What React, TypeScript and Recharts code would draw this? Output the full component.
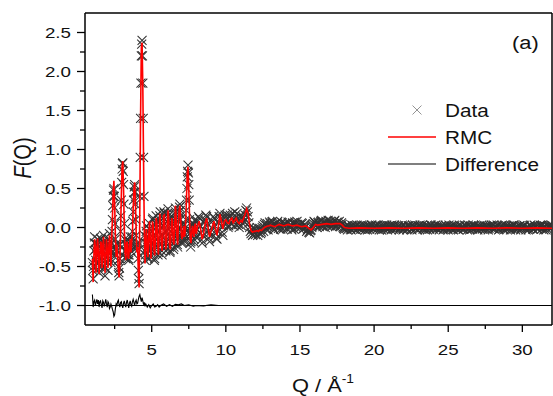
import { ComposedChart, XAxis, YAxis, Scatter, ReferenceLine } from "recharts";

type Pt = [number, number];

const xTicks = [2.5, 5, 7.5, 10, 12.5, 15, 17.5, 20, 22.5, 25, 27.5, 30];
const yTicks = [-1, -0.75, -0.5, -0.25, 0, 0.25, 0.5, 0.75, 1, 1.25, 1.5, 1.75, 2, 2.25, 2.5];

// Q grid of the low-Q part (Å^-1); data and RMC share it
const qLow = [
  1.0, 1.05, 1.1, 1.15, 1.2, 1.25, 1.3, 1.35, 1.4, 1.45,
  1.5, 1.55, 1.6, 1.65, 1.7, 1.75, 1.8, 1.85, 1.9, 1.95,
  2.0, 2.05, 2.1, 2.15, 2.2, 2.25, 2.3, 2.35, 2.4, 2.45,
  2.5, 2.55, 2.6, 2.65, 2.7, 2.75, 2.8, 2.85, 2.9, 2.95,
  3.0, 3.05, 3.1, 3.15, 3.2, 3.25, 3.3, 3.35, 3.4, 3.45,
  3.5, 3.55, 3.6, 3.65, 3.7, 3.75, 3.8, 3.85, 3.9, 3.95,
  4.0, 4.05, 4.1, 4.15, 4.2, 4.25, 4.3, 4.35, 4.4, 4.45,
  4.5, 4.55, 4.6, 4.65, 4.7, 4.75, 4.8, 4.85, 4.9, 4.95,
  5.0, 5.05, 5.1, 5.15, 5.2, 5.25, 5.3, 5.35, 5.4, 5.45,
  5.5, 5.55, 5.6, 5.65, 5.7, 5.75, 5.8, 5.85, 5.9, 5.95,
  6.0, 6.05, 6.1, 6.15, 6.2, 6.25, 6.3, 6.35, 6.4, 6.45,
  6.5, 6.55, 6.6, 6.65, 6.7, 6.75, 6.8, 6.85, 6.9, 6.95,
  7.0, 7.05, 7.1, 7.15, 7.2, 7.25, 7.3, 7.35, 7.4, 7.45,
  7.5, 7.55, 7.6, 7.65, 7.7, 7.75, 7.8, 7.85, 7.9, 7.95,
  8.0, 8.1, 8.2, 8.3, 8.4, 8.5, 8.6, 8.7, 8.8, 8.9,
  9.0, 9.1, 9.2, 9.3, 9.4, 9.5, 9.6, 9.7, 9.8, 9.9,
  10.0, 10.1, 10.2, 10.3, 10.4, 10.5, 10.6, 10.7, 10.8, 10.9,
  11.0, 11.1, 11.2, 11.3, 11.4, 11.5, 11.6, 11.7, 11.8, 11.9,
  12.0, 12.1, 12.2, 12.3, 12.4, 12.5, 12.6, 12.7, 12.8, 12.9,
  13.0,
];

const fDataLow = [
  -0.45, -0.66, -0.3, -0.12, -0.28, -0.55, -0.35, -0.15, -0.3, -0.58,
  -0.4, -0.14, -0.22, -0.5, -0.3, -0.1, -0.35, -0.62, -0.38, -0.18,
  -0.3, -0.55, -0.25, -0.08, -0.3, -0.45, -0.2, 0.1, 0.4, 0.5,
  0.25, -0.15, -0.35, -0.2, -0.3, -0.5, -0.62, -0.4, -0.05, 0.35,
  0.75, 0.83, 0.55, 0.05, -0.3, -0.4, -0.22, -0.15, -0.35, -0.42,
  -0.25, -0.12, -0.3, -0.2, -0.05, 0.2, 0.45, 0.55, 0.3, -0.1,
  -0.3, -0.2, -0.55, -0.72, 0.4, 1.4, 2.2, 2.4, 1.85, 0.9,
  -0.1, -0.42, -0.2, 0.02, -0.25, -0.4, -0.15, 0.05, -0.18, -0.38,
  -0.2, 0.1, 0.0, -0.3, -0.4, -0.1, 0.15, 0.0, -0.25, -0.32,
  -0.05, 0.15, 0.05, -0.22, -0.35, -0.1, 0.12, 0.18, -0.05, -0.3,
  -0.18, 0.08, 0.24, 0.05, -0.25, -0.3, -0.05, 0.15, 0.05, -0.2,
  -0.25, 0.05, 0.25, 0.1, -0.15, -0.25, 0.0, 0.2, 0.3, 0.1,
  -0.12, -0.18, -0.05, 0.05, -0.15, -0.1, 0.1, 0.35, 0.65, 0.8,
  0.55, 0.1, -0.2, -0.18, -0.05, 0.05, -0.08, -0.15, 0.0, 0.08,
  -0.12, 0.08, 0.12, -0.08, -0.2, -0.02, 0.1, 0.14, -0.05, -0.18,
  -0.1, 0.08, 0.12, -0.08, -0.15, 0.06, 0.18, 0.02, -0.1, 0.12,
  0.04, 0.16, 0.02, 0.16, 0.04, 0.1, 0.2, 0.03, 0.12, 0.0,
  0.14, 0.06, 0.12, 0.16, 0.25, 0.14, 0.0, -0.08, -0.1, -0.02,
  -0.09, 0.0, -0.07, -0.01, -0.06, 0.02, 0.04, -0.02, 0.05, 0.0,
  0.05,
];

const fRmcLow = [
  -0.4, -0.7, -0.35, -0.15, -0.25, -0.58, -0.3, -0.14, -0.32, -0.6,
  -0.38, -0.18, -0.2, -0.52, -0.28, -0.12, -0.38, -0.58, -0.35, -0.15,
  -0.28, -0.52, -0.28, -0.1, -0.32, -0.5, -0.15, 0.12, 0.45, 0.6,
  0.3, -0.1, -0.38, -0.22, -0.35, -0.55, -0.64, -0.45, -0.05, 0.4,
  0.78, 0.85, 0.5, 0.0, -0.32, -0.42, -0.2, -0.18, -0.38, -0.4,
  -0.22, -0.15, -0.32, -0.18, -0.08, 0.25, 0.5, 0.58, 0.35, -0.05,
  -0.32, -0.25, -0.6, -0.77, 0.3, 1.45, 2.3, 2.37, 1.8, 0.85,
  -0.05, -0.46, -0.18, -0.02, -0.28, -0.38, -0.12, 0.08, -0.15, -0.4,
  -0.22, 0.08, 0.02, -0.28, -0.36, -0.12, 0.12, 0.05, -0.22, -0.35,
  -0.08, 0.18, 0.02, -0.2, -0.3, -0.12, 0.15, 0.16, -0.08, -0.28,
  -0.2, 0.05, 0.22, 0.1, -0.22, -0.28, -0.08, 0.12, 0.08, -0.18,
  -0.22, 0.02, 0.28, 0.12, -0.12, -0.22, 0.05, 0.22, 0.28, 0.12,
  -0.1, -0.15, -0.08, 0.02, -0.12, -0.08, 0.12, 0.4, 0.7, 0.78,
  0.5, 0.15, -0.15, -0.2, -0.08, 0.02, -0.05, -0.12, 0.02, 0.05,
  -0.08, 0.02, 0.08, -0.02, -0.15, -0.08, 0.05, 0.12, 0.0, -0.12,
  -0.05, 0.02, 0.08, -0.02, -0.1, 0.02, 0.17, 0.08, -0.02, 0.08,
  0.1, 0.06, 0.05, 0.1, 0.12, 0.06, 0.09, 0.12, 0.07, 0.05,
  0.09, 0.07, 0.12, 0.17, 0.24, 0.18, 0.04, -0.04, -0.06, -0.05,
  -0.05, -0.04, -0.05, -0.03, -0.04, -0.02, 0.0, 0.01, 0.02, 0.02,
  0.03,
];

// extra measured points between the low-Q grid values
const dataLowMid: Pt[] = [
  [1.025, -0.55], [1.075, -0.5], [1.125, -0.2], [1.175, -0.2], [1.225, -0.42], [1.275, -0.45], [1.325, -0.22], [1.375, -0.22], [1.425, -0.45], [1.475, -0.5],
  [1.525, -0.25], [1.575, -0.15], [1.625, -0.38], [1.675, -0.42], [1.725, -0.18], [1.775, -0.2], [1.825, -0.5], [1.875, -0.52], [1.925, -0.25], [1.975, -0.22],
  [2.025, -0.45], [2.075, -0.4], [2.125, -0.15], [2.175, -0.18], [2.225, -0.4], [2.275, -0.32], [2.325, -0.05], [2.375, 0.28], [2.425, 0.48], [2.475, 0.4],
  [2.525, 0.05], [2.575, -0.28], [2.625, -0.3], [2.675, -0.22], [2.725, -0.42], [2.775, -0.58], [2.825, -0.52], [2.875, -0.22], [2.925, 0.15], [2.975, 0.58],
  [3.025, 0.82], [3.075, 0.72], [3.125, 0.3], [3.175, -0.15], [3.225, -0.38], [3.275, -0.3], [3.325, -0.18], [3.375, -0.25], [3.425, -0.4], [3.475, -0.35],
  [3.525, -0.18], [3.575, -0.22], [3.625, -0.25], [3.675, -0.12], [3.725, 0.08], [3.775, 0.35], [3.825, 0.52], [3.875, 0.45], [3.925, 0.1], [3.975, -0.22],
  [4.025, -0.25], [4.075, -0.4], [4.125, -0.66], [4.175, -0.2], [4.225, 0.9], [4.275, 1.85], [4.325, 2.35], [4.375, 2.2], [4.425, 1.4], [4.475, 0.4],
  [4.525, -0.3], [4.575, -0.35], [4.625, -0.05], [4.675, -0.12], [4.725, -0.38], [4.775, -0.28], [4.825, -0.02], [4.875, -0.08], [4.925, -0.3], [4.975, -0.28],
  [5.025, -0.05], [5.075, 0.12], [5.125, -0.2], [5.175, -0.42], [5.225, -0.22], [5.275, 0.05], [5.325, 0.08], [5.375, -0.15], [5.425, -0.35], [5.475, -0.18],
  [5.525, 0.08], [5.575, 0.2], [5.625, -0.1], [5.675, -0.3], [5.725, -0.25], [5.775, 0.02], [5.825, 0.2], [5.875, 0.05], [5.925, -0.2], [5.975, -0.25],
  [6.025, -0.05], [6.075, 0.18], [6.125, 0.15], [6.175, -0.12], [6.225, -0.32], [6.275, -0.18], [6.325, 0.06], [6.375, 0.12], [6.425, -0.08], [6.475, -0.28],
  [6.525, -0.1], [6.575, 0.18], [6.625, 0.2], [6.675, -0.05], [6.725, -0.22], [6.775, -0.12], [6.825, 0.1], [6.875, 0.26], [6.925, 0.22], [6.975, -0.02],
  [7.025, -0.2], [7.075, -0.1], [7.125, 0.02], [7.175, -0.08], [7.225, -0.18], [7.275, 0.0], [7.325, 0.22], [7.375, 0.5], [7.425, 0.72], [7.475, 0.7],
  [7.525, 0.35], [7.575, -0.08], [7.625, -0.25], [7.675, -0.1], [7.725, 0.02], [7.775, -0.02], [7.825, -0.18], [7.875, -0.06], [7.925, 0.1], [7.975, -0.05],
  [8.05, -0.02], [8.15, 0.14], [8.25, 0.02], [8.35, -0.16], [8.45, -0.1], [8.55, 0.06], [8.65, 0.16], [8.75, 0.05], [8.85, -0.14], [8.95, -0.06],
  [9.05, 0.0], [9.15, 0.14], [9.25, 0.02], [9.35, -0.14], [9.45, -0.05], [9.55, 0.14], [9.65, 0.12], [9.75, -0.06], [9.85, 0.02], [9.95, 0.16],
  [10.05, 0.12], [10.15, 0.0], [10.25, 0.14], [10.35, 0.06], [10.45, 0.18], [10.55, 0.02], [10.65, 0.12], [10.75, 0.18], [10.85, 0.04], [10.95, 0.1],
  [11.05, 0.02], [11.15, 0.14], [11.25, 0.08], [11.35, 0.22], [11.45, 0.2], [11.55, 0.06], [11.65, -0.05], [11.75, -0.02], [11.85, -0.09], [11.95, -0.07],
  [12.05, -0.03], [12.15, -0.1], [12.25, -0.02], [12.35, -0.08], [12.45, 0.0], [12.55, -0.05], [12.65, 0.06], [12.75, 0.02], [12.85, -0.03], [12.95, 0.07],
];

// measured F(Q) above 13 Å^-1 (whole tenths)
const dataHigh: Pt[] = [
  [13.1, 0.07], [13.2, -0.01], [13.3, 0.05], [13.4, 0.0], [13.5, 0.08], [13.6, 0.02], [13.7, -0.02], [13.8, 0.06], [13.9, 0.01], [14.0, 0.05],
  [14.1, -0.01], [14.2, 0.07], [14.3, 0.03], [14.4, 0.0], [14.5, 0.06], [14.6, -0.02], [14.7, 0.04], [14.8, 0.08], [14.9, 0.01], [15.0, 0.03],
  [15.1, 0.06], [15.2, -0.02], [15.3, 0.04], [15.4, 0.01], [15.5, -0.03], [15.6, -0.06], [15.7, -0.04], [15.8, 0.0], [15.9, 0.05], [16.0, 0.07],
  [16.1, 0.02], [16.2, 0.06], [16.3, 0.01], [16.4, 0.08], [16.5, 0.03], [16.6, 0.07], [16.7, 0.0], [16.8, 0.05], [16.9, 0.09], [17.0, 0.02],
  [17.1, 0.06], [17.2, 0.03], [17.3, 0.08], [17.4, 0.01], [17.5, 0.07], [17.6, 0.04], [17.7, 0.02], [17.8, 0.06], [17.9, 0.0], [18.0, -0.02],
  [18.1, 0.02], [18.2, -0.03], [18.3, 0.01], [18.4, -0.02], [18.5, 0.03], [18.6, -0.01], [18.7, 0.02], [18.8, -0.03], [18.9, 0.0], [19.0, 0.02],
  [19.1, -0.02], [19.2, 0.01], [19.3, 0.03], [19.4, -0.03], [19.5, 0.0], [19.6, 0.02], [19.7, -0.02], [19.8, 0.03], [19.9, -0.01], [20.0, 0.01],
  [20.1, 0.03], [20.2, -0.02], [20.3, 0.0], [20.4, 0.02], [20.5, -0.03], [20.6, 0.01], [20.7, 0.03], [20.8, -0.01], [20.9, -0.03], [21.0, 0.02],
  [21.1, 0.0], [21.2, 0.03], [21.3, -0.02], [21.4, 0.01], [21.5, -0.01], [21.6, 0.02], [21.7, -0.03], [21.8, 0.0], [21.9, 0.03], [22.0, -0.02],
  [22.1, 0.01], [22.2, -0.03], [22.3, 0.02], [22.4, 0.0], [22.5, -0.02], [22.6, 0.03], [22.7, 0.01], [22.8, -0.01], [22.9, -0.03], [23.0, 0.02],
  [23.1, 0.03], [23.2, 0.0], [23.3, -0.02], [23.4, 0.02], [23.5, -0.01], [23.6, -0.03], [23.7, 0.01], [23.8, 0.03], [23.9, 0.0], [24.0, -0.02],
  [24.1, 0.02], [24.2, -0.01], [24.3, 0.03], [24.4, -0.03], [24.5, 0.01], [24.6, 0.0], [24.7, -0.02], [24.8, 0.03], [24.9, 0.01], [25.0, -0.03],
  [25.1, 0.0], [25.2, 0.02], [25.3, -0.02], [25.4, 0.03], [25.5, -0.01], [25.6, 0.01], [25.7, -0.03], [25.8, 0.02], [25.9, 0.0], [26.0, -0.02],
  [26.1, 0.03], [26.2, 0.01], [26.3, -0.03], [26.4, 0.0], [26.5, 0.02], [26.6, -0.02], [26.7, 0.03], [26.8, -0.01], [26.9, 0.01], [27.0, -0.03],
  [27.1, 0.02], [27.2, 0.0], [27.3, -0.02], [27.4, 0.03], [27.5, -0.01], [27.6, 0.01], [27.7, -0.03], [27.8, 0.02], [27.9, 0.03], [28.0, -0.01],
  [28.1, -0.02], [28.2, 0.01], [28.3, 0.03], [28.4, -0.03], [28.5, 0.0], [28.6, 0.02], [28.7, -0.01], [28.8, 0.03], [28.9, -0.02], [29.0, 0.0],
  [29.1, 0.02], [29.2, -0.03], [29.3, 0.01], [29.4, 0.03], [29.5, -0.01], [29.6, 0.0], [29.7, -0.02], [29.8, 0.02], [29.9, -0.03], [30.0, 0.01],
  [30.1, 0.03], [30.2, -0.01], [30.3, 0.0], [30.4, -0.03], [30.5, 0.02], [30.6, 0.01], [30.7, -0.02], [30.8, 0.03], [30.9, 0.0], [31.0, -0.02],
  [31.1, 0.01], [31.2, 0.03], [31.3, -0.02], [31.4, 0.0], [31.5, 0.02], [31.6, -0.03], [31.7, 0.01], [31.8, 0.03], [31.9, -0.01], [32.0, 0.0],
];

// measured F(Q) above 13 Å^-1 (half tenths)
const dataHighMid: Pt[] = [
  [13.05, 0.02], [13.15, 0.08], [13.25, -0.03], [13.35, 0.04], [13.45, 0.06], [13.55, -0.01], [13.65, 0.03], [13.75, 0.07], [13.85, -0.02], [13.95, 0.05],
  [14.05, 0.04], [14.15, -0.02], [14.25, 0.06], [14.35, 0.01], [14.45, -0.03], [14.55, 0.05], [14.65, 0.07], [14.75, 0.0], [14.85, 0.04], [14.95, -0.01],
  [15.05, 0.0], [15.15, 0.05], [15.25, -0.01], [15.35, 0.03], [15.45, -0.05], [15.55, -0.02], [15.65, -0.07], [15.75, -0.03], [15.85, 0.02], [15.95, 0.08],
  [16.05, 0.05], [16.15, 0.0], [16.25, 0.07], [16.35, 0.03], [16.45, 0.09], [16.55, 0.01], [16.65, 0.05], [16.75, 0.08], [16.85, 0.02], [16.95, 0.06],
  [17.05, 0.08], [17.15, 0.01], [17.25, 0.05], [17.35, 0.09], [17.45, 0.03], [17.55, 0.06], [17.65, 0.08], [17.75, 0.01], [17.85, 0.04], [17.95, -0.01],
  [18.05, 0.01], [18.15, -0.01], [18.25, 0.03], [18.35, 0.0], [18.45, -0.03], [18.55, 0.02], [18.65, -0.02], [18.75, 0.01], [18.85, 0.03], [18.95, -0.01],
  [19.05, 0.0], [19.15, 0.03], [19.25, -0.02], [19.35, 0.01], [19.45, 0.02], [19.55, -0.03], [19.65, 0.01], [19.75, 0.0], [19.85, 0.03], [19.95, -0.02],
  [20.05, -0.01], [20.15, 0.02], [20.25, 0.03], [20.35, -0.03], [20.45, 0.0], [20.55, 0.02], [20.65, -0.02], [20.75, 0.01], [20.85, 0.03], [20.95, -0.01],
  [21.05, 0.02], [21.15, -0.03], [21.25, 0.01], [21.35, 0.03], [21.45, -0.02], [21.55, 0.0], [21.65, 0.02], [21.75, -0.01], [21.85, 0.01], [21.95, -0.03],
  [22.05, 0.03], [22.15, 0.0], [22.25, -0.02], [22.35, 0.02], [22.45, 0.01], [22.55, -0.03], [22.65, 0.0], [22.75, 0.03], [22.85, -0.01], [22.95, 0.02],
  [23.05, -0.02], [23.15, 0.01], [23.25, 0.03], [23.35, -0.01], [23.45, -0.03], [23.55, 0.02], [23.65, 0.0], [23.75, -0.02], [23.85, 0.03], [23.95, 0.01],
  [24.05, 0.0], [24.15, 0.03], [24.25, -0.02], [24.35, 0.01], [24.45, -0.01], [24.55, 0.02], [24.65, -0.03], [24.75, 0.0], [24.85, 0.02], [24.95, -0.01],
  [25.05, 0.03], [25.15, -0.01], [25.25, 0.01], [25.35, -0.03], [25.45, 0.02], [25.55, 0.0], [25.65, -0.02], [25.75, 0.03], [25.85, -0.01], [25.95, 0.01],
  [26.05, -0.02], [26.15, 0.02], [26.25, 0.0], [26.35, 0.03], [26.45, -0.03], [26.55, 0.01], [26.65, -0.01], [26.75, 0.02], [26.85, 0.0], [26.95, -0.02],
  [27.05, 0.01], [27.15, -0.02], [27.25, 0.03], [27.35, 0.0], [27.45, -0.03], [27.55, 0.02], [27.65, 0.01], [27.75, -0.01], [27.85, 0.0], [27.95, 0.02],
  [28.05, 0.03], [28.15, -0.01], [28.25, 0.0], [28.35, 0.02], [28.45, -0.02], [28.55, 0.01], [28.65, 0.03], [28.75, -0.03], [28.85, 0.01], [28.95, 0.02],
  [29.05, -0.01], [29.15, 0.0], [29.25, 0.02], [29.35, -0.02], [29.45, 0.03], [29.55, -0.03], [29.65, 0.01], [29.75, 0.0], [29.85, 0.02], [29.95, -0.01],
  [30.05, 0.01], [30.15, 0.02], [30.25, -0.03], [30.35, 0.01], [30.45, -0.01], [30.55, 0.03], [30.65, 0.0], [30.75, -0.02], [30.85, 0.02], [30.95, 0.01],
  [31.05, -0.02], [31.15, 0.0], [31.25, 0.02], [31.35, 0.03], [31.45, -0.03], [31.55, 0.01], [31.65, -0.01], [31.75, 0.02], [31.85, 0.0], [31.95, 0.03],
];

// RMC fit above 13 Å^-1
const rmcHigh: Pt[] = [
  [13.3, 0.01], [13.6, 0.04], [13.9, 0.02], [14.2, 0.04], [14.5, 0.02], [14.8, 0.03], [15.1, 0.01], [15.4, 0.02],
  [15.6, -0.01], [15.75, -0.03], [15.9, 0.0], [16.05, 0.04], [16.2, 0.03], [16.5, 0.04], [16.8, 0.05], [17.1, 0.04],
  [17.4, 0.05], [17.7, 0.05], [17.85, 0.03], [18.0, 0.0], [18.3, -0.01], [19, -0.005], [20, -0.01], [21, -0.005],
  [22, -0.01], [23, -0.005], [24, -0.01], [25, -0.005], [26, -0.01], [27, -0.005], [28, -0.01], [29, -0.005],
  [30, -0.01], [31, -0.005], [32, -0.01],
];

// difference curve, drawn offset by -1
const difference: Pt[] = [
  [1.0, -0.86], [1.05, -1.02], [1.1, -0.95], [1.15, -0.93], [1.2, -1.0], [1.25, -0.96], [1.3, -0.92], [1.35, -0.98], [1.4, -0.93], [1.45, -1.02],
  [1.5, -0.95], [1.55, -0.94], [1.6, -0.99], [1.65, -1.03], [1.7, -0.94], [1.75, -0.96], [1.8, -1.01], [1.85, -0.97], [1.9, -0.92], [1.95, -0.98],
  [2.0, -1.02], [2.05, -0.95], [2.1, -0.97], [2.15, -1.04], [2.2, -1.02], [2.25, -0.98], [2.3, -1.01], [2.35, -1.05], [2.4, -1.08], [2.45, -1.14],
  [2.5, -1.12], [2.55, -1.04], [2.6, -0.98], [2.65, -1.0], [2.7, -0.95], [2.75, -0.93], [2.8, -0.99], [2.85, -1.02], [2.9, -0.96], [2.95, -0.95],
  [3.0, -1.0], [3.05, -1.03], [3.1, -0.97], [3.15, -0.94], [3.2, -0.99], [3.25, -1.02], [3.3, -0.96], [3.35, -0.93], [3.4, -0.98], [3.45, -1.03],
  [3.5, -0.97], [3.55, -0.94], [3.6, -0.99], [3.65, -1.01], [3.7, -0.95], [3.75, -0.92], [3.8, -0.96], [3.85, -1.0], [3.9, -0.95], [3.95, -0.93],
  [4.0, -0.98], [4.05, -0.97], [4.1, -0.92], [4.15, -0.88], [4.2, -0.86], [4.25, -0.91], [4.3, -0.95], [4.35, -0.9], [4.4, -0.94], [4.45, -0.99],
  [4.5, -0.96], [4.55, -1.01], [4.6, -0.98], [4.7, -1.02], [4.8, -0.99], [4.9, -1.03], [5.0, -1.0], [5.1, -0.98], [5.2, -1.02], [5.3, -1.01],
  [5.4, -0.99], [5.5, -1.02], [5.6, -1.0], [5.8, -0.98], [6.0, -1.01], [6.2, -0.99], [6.4, -1.01], [6.6, -0.985], [6.8, -0.99], [7.0, -0.98],
  [7.2, -1.0], [7.5, -0.99], [7.8, -1.01], [8.0, -1.0], [8.5, -1.005], [9.0, -0.99], [9.5, -1.0], [10.0, -1.0], [12.0, -1.0], [32.0, -1.0],
];

const dataPoints = [
  ...qLow.map((q, i) => ({ q, f: fDataLow[i] })),
  ...dataLowMid.map(([q, f]) => ({ q, f })),
  ...dataHigh.map(([q, f]) => ({ q, f })),
  ...dataHighMid.map(([q, f]) => ({ q, f })),
];
const rmcPoints = [
  ...qLow.map((q, i) => ({ q, f: fRmcLow[i] })),
  ...rmcHigh.map(([q, f]) => ({ q, f })),
];
const diffPoints = difference.map(([q, f]) => ({ q, f }));

const FONT = '"Liberation Sans", Arial, sans-serif';
const STRETCH = 1.25;

const Cross = (props: any) => {
  const { cx, cy } = props;
  if (cx == null || cy == null) return <g />;
  const s = 4.5;
  return (
    <path
      d={`M${cx - s},${cy - s}L${cx + s},${cy + s}M${cx - s},${cy + s}L${cx + s},${cy - s}`}
      stroke="#333"
      strokeWidth={1.05}
      fill="none"
    />
  );
};

const NoMark = () => <g />;

const XTick = (props: any) => {
  const { x, y, payload } = props;
  const v = payload.value as number;
  const major = v % 5 === 0;
  return (
    <g>
      <line x1={x} y1={y} x2={x} y2={y + (major ? 7 : 4)} stroke="#000" strokeWidth={1.3} />
      {major && (
        <text
          transform={`translate(${x},${y + 30}) scale(${STRETCH},1)`}
          textAnchor="middle"
          fontSize={15}
          fontFamily={FONT}
          fill="#111"
        >
          {v}
        </text>
      )}
    </g>
  );
};

const YTick = (props: any) => {
  const { x, y, payload } = props;
  const v = payload.value as number;
  const major = Math.abs(v * 2 - Math.round(v * 2)) < 1e-6;
  return (
    <g>
      <line x1={x - (major ? 8 : 5)} y1={y} x2={x} y2={y} stroke="#000" strokeWidth={1.3} />
      {major && (
        <text
          transform={`translate(${x - 14},${y + 5.5}) scale(${STRETCH},1)`}
          textAnchor="end"
          fontSize={15}
          fontFamily={FONT}
          fill="#111"
        >
          {v.toFixed(1)}
        </text>
      )}
    </g>
  );
};

export default function App() {
  return (
    <div style={{ position: "absolute", left: 0, top: 0, width: 553, height: 396, background: "#fff" }}>
      <ComposedChart width={553} height={396} margin={{ top: 13, right: 1, bottom: 0, left: 0 }}>
        <XAxis
          dataKey="q"
          type="number"
          domain={[0.5, 32]}
          allowDataOverflow
          ticks={xTicks}
          interval={0}
          tick={XTick}
          tickLine={false}
          tickSize={0}
          tickMargin={0}
          height={71}
          axisLine={{ stroke: "#000", strokeWidth: 1.5 }}
        />
        <YAxis
          type="number"
          domain={[-1.25, 2.75]}
          allowDataOverflow
          ticks={yTicks}
          interval={0}
          tick={YTick}
          tickLine={false}
          tickSize={0}
          tickMargin={0}
          width={85}
          axisLine={{ stroke: "#000", strokeWidth: 1.5 }}
        />
        <ReferenceLine x={32} stroke="#000" strokeWidth={1.5} />
        <ReferenceLine y={2.75} stroke="#000" strokeWidth={1.5} />
        <ReferenceLine y={-1} stroke="#000" strokeWidth={1} />
        <Scatter
          data={dataPoints}
          dataKey="f"
          name="Data"
          shape={Cross}
          isAnimationActive={false}
          {...({ zIndex: 600 } as any)}
        />
        <Scatter
          data={rmcPoints}
          dataKey="f"
          name="RMC"
          shape={NoMark}
          line={{ stroke: "#ff0000", strokeWidth: 1.6 }}
          lineJointType="linear"
          isAnimationActive={false}
          {...({ zIndex: 700 } as any)}
        />
        <Scatter
          data={diffPoints}
          dataKey="f"
          name="Difference"
          shape={NoMark}
          line={{ stroke: "#000", strokeWidth: 1.1 }}
          lineJointType="linear"
          isAnimationActive={false}
          {...({ zIndex: 700 } as any)}
        />
      </ComposedChart>
      <svg
        width={553}
        height={396}
        style={{ position: "absolute", left: 0, top: 0, pointerEvents: "none" }}
        fontFamily={FONT}
      >
        <text
          transform={`translate(31,158) scale(1.15,1) rotate(-90)`}
          textAnchor="middle"
          fontSize={20}
          fill="#111"
        >
          <tspan fontStyle="italic">F</tspan>
          <tspan>(Q)</tspan>
        </text>
        <text transform={`translate(323,392) scale(1.15,1)`} textAnchor="middle" fontSize={19} fill="#111">
          <tspan>Q / Å</tspan>
          <tspan dy={-9} fontSize={12}>-1</tspan>
        </text>
        <text transform={`translate(512,49) scale(1.15,1)`} fontSize={19} fill="#111">
          (a)
        </text>
        <path d="M412.5,105.5L421.5,114.5M412.5,114.5L421.5,105.5" stroke="#888" strokeWidth={0.9} fill="none" />
        <text transform={`translate(445,117) scale(1.12,1)`} fontSize={18.5} fill="#111">
          Data
        </text>
        <line x1={388} y1={137} x2={436} y2={137} stroke="#ff0000" strokeWidth={1.6} />
        <text transform={`translate(445,144) scale(1.12,1)`} fontSize={18.5} fill="#111">
          RMC
        </text>
        <line x1={388} y1={164} x2={436} y2={164} stroke="#000" strokeWidth={1.1} />
        <text transform={`translate(445,171) scale(1.12,1)`} fontSize={18.5} fill="#111">
          Difference
        </text>
      </svg>
    </div>
  );
}
